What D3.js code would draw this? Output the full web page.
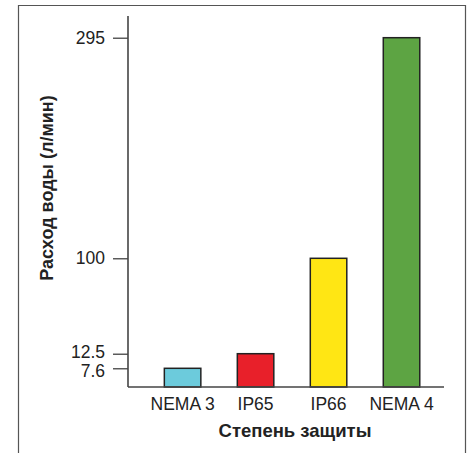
<!DOCTYPE html>
<html><head><meta charset="utf-8">
<script src="https://cdn.jsdelivr.net/npm/d3@7"></script>
<style>body{margin:0;background:#fff}svg{display:block}</style>
</head><body>
<script>
const categories = ["NEMA 3", "IP65", "IP66", "NEMA 4"];
const values = [7.6, 12.5, 100, 295];
const colors = ["#6ccbdc", "#e8202a", "#ffe614", "#5da443"];
const tickValues = [7.6, 12.5, 100, 295];
const tickLabels = ["7.6", "12.5", "100", "295"];
const xTitle = "Степень защиты";
const yTitle = "Расход воды (л/мин)";

(function () {
const W = 471, H = 453;
const svg = d3.select("body").append("svg").attr("width", W).attr("height", H);

// frame
svg.append("path").attr("d", "M18.5,460V5.5H465.5V460")
  .attr("fill", "none").attr("stroke", "#555").attr("stroke-width", 1.2);

const mLeft = 128, mRight = 444, mBottom = 387, mTop = 16;

// piecewise (broken) y scale as in the original
const y = d3.scaleLinear()
  .domain([0].concat(tickValues))
  .range([mBottom, 368.3, 353.7, 258.3, 37.7]);

const x = d3.scaleBand().domain(categories).range([mLeft, mRight])
  .paddingInner(0.5).paddingOuter(0.415).align(0.6);

const font = "'Liberation Sans', Arial, Helvetica, sans-serif";

// bars
svg.append("g").selectAll("rect").data(values).join("rect")
  .attr("x", (d, i) => x(categories[i]))
  .attr("y", d => y(d))
  .attr("width", x.bandwidth())
  .attr("height", d => y(0) - y(d))
  .attr("fill", (d, i) => colors[i])
  .attr("stroke", "#222").attr("stroke-width", 1.5);

// y axis
const yAxis = d3.axisLeft(y).tickValues(tickValues)
  .tickFormat((d, i) => tickLabels[i]).tickSize(15).tickPadding(8).tickSizeOuter(0);
const gy = svg.append("g").attr("transform", `translate(${mLeft},0)`).call(yAxis);
gy.select(".domain").remove();
gy.selectAll(".tick line").attr("stroke", "#333").attr("stroke-width", 1.2);
gy.selectAll(".tick text").attr("font-family", font).attr("font-size", 17.5).attr("fill", "#222")
  .attr("dy", (d, i) => i === 0 ? "0.45em" : (i === 1 ? "0.2em" : "0.32em"));
svg.append("line").attr("x1", mLeft).attr("x2", mLeft).attr("y1", mTop).attr("y2", mBottom)
  .attr("stroke", "#444").attr("stroke-width", 1.6);

// x axis
const xAxis = d3.axisBottom(x).tickSize(0).tickPadding(11);
const gx = svg.append("g").attr("transform", `translate(0,${mBottom})`).call(xAxis);
gx.select(".domain").remove();
gx.selectAll(".tick text").attr("font-family", font).attr("font-size", 17.5).attr("fill", "#222");
svg.append("line").attr("x1", mLeft).attr("x2", mRight).attr("y1", mBottom).attr("y2", mBottom)
  .attr("stroke", "#444").attr("stroke-width", 1.6);

// titles
svg.append("text").attr("x", 295).attr("y", 437).attr("text-anchor", "middle")
  .attr("font-family", font).attr("font-weight", "bold").attr("font-size", 18.5)
  .attr("fill", "#222").text(xTitle);
svg.append("text").attr("transform", "translate(53,188) rotate(-90)")
  .attr("text-anchor", "middle")
  .attr("font-family", font).attr("font-weight", "bold").attr("font-size", 18)
  .attr("fill", "#222").text(yTitle);
})();
</script>
</body></html>
